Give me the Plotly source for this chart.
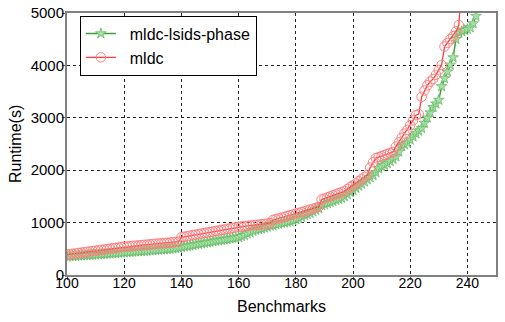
import plotly.graph_objects as go

# benchmark index on the x axis
bench_phase = list(range(100, 245))
bench_mldc = list(range(100, 239))

# runtime (s) of mldc-lsids-phase, sorted
runtime_phase = [
    350, 355, 358, 362, 366, 370, 373, 377, 381, 385,
    389, 393, 397, 400, 404, 408, 412, 416, 420, 424,
    430, 434, 438, 442, 446, 450, 454, 458, 462, 466,
    470, 474, 478, 483, 488, 493, 498, 504, 510, 516,
    530, 540, 550, 560, 570, 580, 590, 600, 610, 620,
    630, 640, 650, 658, 666, 675, 684, 693, 702, 711,
    720, 740, 760, 790, 810, 840, 860, 870, 885, 900,
    920, 940, 950, 965, 975, 990, 1000, 1010, 1025, 1040,
    1060, 1080, 1110, 1140, 1160, 1180, 1210, 1240, 1270, 1330,
    1350, 1370, 1390, 1410, 1430, 1450, 1470, 1500, 1540, 1580,
    1620, 1660, 1700, 1740, 1780, 1820, 1860, 1900, 1960, 2030,
    2070, 2100, 2130, 2170, 2210, 2260, 2350, 2460, 2490, 2520,
    2580, 2640, 2700, 2750, 2800, 2900, 3000, 3100, 3200, 3270,
    3340, 3600, 3750, 3880, 4010, 4150, 4500, 4620, 4650, 4670,
    4690, 4720, 4800, 4940, 5800,
]

# runtime (s) of mldc, sorted
runtime_mldc = [
    390, 397, 405, 412, 420, 427, 435, 442, 450, 457,
    465, 472, 480, 487, 495, 502, 510, 517, 525, 532,
    540, 545, 550, 555, 560, 565, 570, 575, 580, 585,
    590, 595, 600, 605, 610, 615, 620, 625, 630, 636,
    720, 730, 740, 750, 760, 770, 780, 790, 800, 810,
    820, 830, 840, 850, 860, 870, 880, 890, 900, 910,
    920, 926, 932, 938, 944, 950, 956, 962, 968, 974,
    980, 990, 1050, 1065, 1080, 1095, 1110, 1125, 1140, 1155,
    1170, 1185, 1200, 1215, 1230, 1250, 1265, 1280, 1300, 1440,
    1460, 1480, 1500, 1520, 1540, 1560, 1580, 1600, 1640, 1680,
    1710, 1750, 1790, 1830, 1870, 1910, 2050, 2150, 2230, 2250,
    2270, 2290, 2310, 2330, 2350, 2450, 2530, 2620, 2700, 2770,
    2860, 2950, 3050, 3070, 3400, 3520, 3620, 3690, 3740, 3820,
    3910, 4010, 4360, 4430, 4500, 4560, 4650, 4770, 5600,
]

x_ticks = [100, 120, 140, 160, 180, 200, 220, 240]
y_ticks = [0, 1000, 2000, 3000, 4000, 5000]

pad = "\u00a0\u00a0"  # nudges legend text right like the original

fig = go.Figure()
fig.add_trace(go.Scatter(
    x=bench_phase, y=runtime_phase, name=pad + "mldc-lsids-phase",
    mode="lines+markers",
    line=dict(color="#3f9f3f", width=1.5),
    marker=dict(symbol="star", size=8, color="#a8e0a8",
                line=dict(color="#66bb66", width=0.8)),
))
fig.add_trace(go.Scatter(
    x=bench_mldc, y=runtime_mldc, name=pad + "mldc",
    mode="lines+markers",
    line=dict(color="#ff3b3b", width=1.3),
    marker=dict(symbol="circle-open", size=9.5, color="#ff8080",
                line=dict(width=1)),
))

axis_common = dict(
    showline=True, linecolor="#808080", linewidth=2, mirror=True,
    ticks="outside", ticklen=3, tickcolor="#555555",
    showgrid=True, gridcolor="#222222", griddash="dot", gridwidth=1,
    zeroline=False, automargin=False,
)

fig.update_xaxes(range=[100, 250], tickvals=x_ticks, ticklabelstandoff=-9,
                 tickfont=dict(size=14, color="black"), **axis_common)
fig.update_yaxes(range=[0, 5000], tickvals=y_ticks, ticklabelstandoff=-5,
                 tickfont=dict(size=15, color="black"), **axis_common)

# axis titles placed as annotations so the plot area stays fixed
fig.add_annotation(text="Benchmarks", x=0.5, y=0, xref="paper", yref="paper",
                   xanchor="center", yanchor="middle", yshift=-31,
                   showarrow=False, font=dict(size=16, color="black"))
fig.add_annotation(text="Runtime(s)", x=0, y=0.5, xref="paper", yref="paper",
                   xanchor="center", yanchor="middle", xshift=-52,
                   textangle=-90, showarrow=False,
                   font=dict(size=16, color="black"))

fig.update_layout(
    width=505, height=322,
    margin=dict(l=67, r=9, t=13, b=47),
    plot_bgcolor="white", paper_bgcolor="white",
    font=dict(family="Liberation Sans, Arial, sans-serif", color="black"),
    legend=dict(
        x=0.03, y=0.99, xanchor="left", yanchor="top",
        bgcolor="white", bordercolor="black", borderwidth=1,
        font=dict(size=16), tracegroupgap=0,
    ),
    showlegend=True,
)

fig.write_html("out.html", config={"displayModeBar": False},
               post_script="document.body.style.margin='0';")
